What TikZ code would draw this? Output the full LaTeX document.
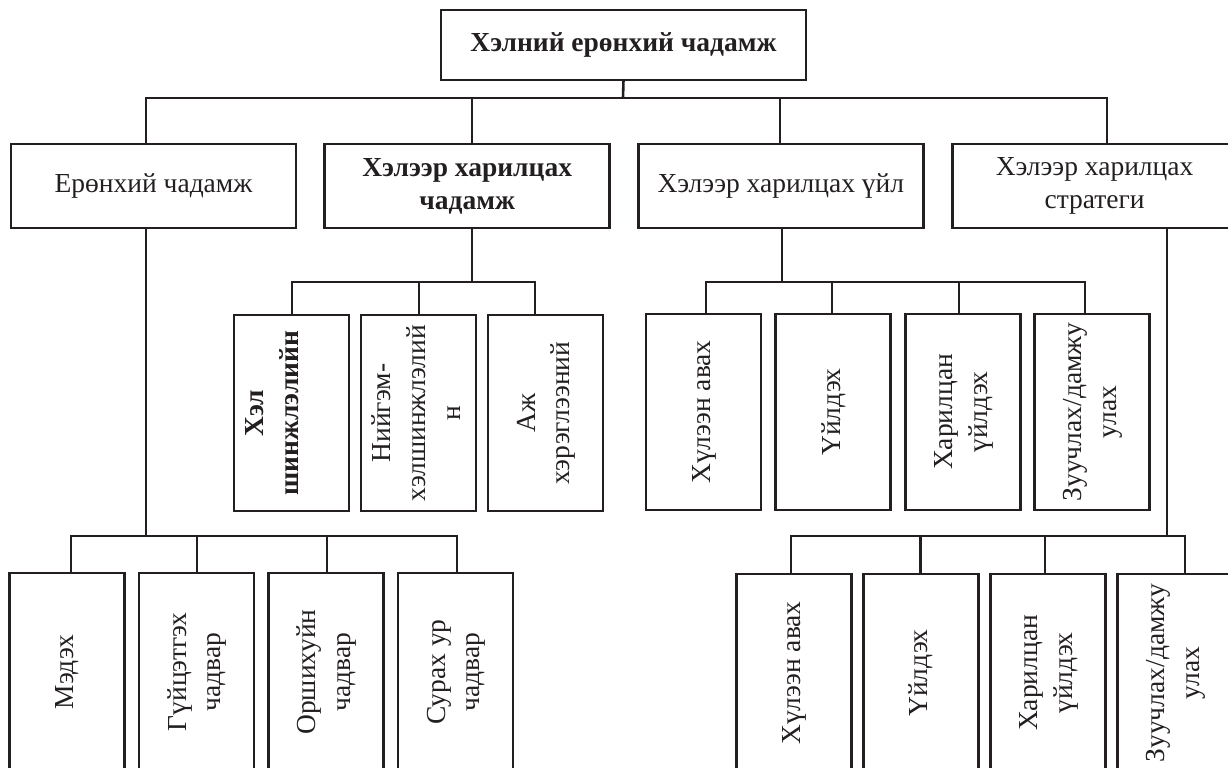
\documentclass[tikz,border=0pt]{standalone}
\usepackage{fontspec}
\setmainfont{Liberation Serif}
\usepackage{graphicx}
\usetikzlibrary{positioning,calc}
\definecolor{ink}{RGB}{35,31,32}
\newcommand{\vlabel}[1]{\rotatebox{90}{\def\arraystretch{1.05}\begin{tabular}{@{}c@{}}#1\end{tabular}}}

\begin{document}
\begin{tikzpicture}[x=0.5pt,y=-0.5pt,
        txt/.style={font=\fontsize{13.75pt}{16.6pt}\selectfont,text=ink},
        strong/.style={font=\fontsize{13.75pt}{16.6pt}\selectfont\bfseries},
        box/.style={txt,draw=ink,line width=1.45pt,outer sep=0pt,inner sep=2pt},
        wide/.style={box,align=center,minimum width=142.5pt,minimum height=42pt},
        tall/.style={box,minimum width=57.5pt,minimum height=98pt},
        low/.style={tall,minimum height=99pt},
        link/.style={draw=ink,line width=1.3pt}]
        \useasboundingbox (0,0) rectangle (1228,767);
        \clip (0,0) rectangle (1228,767);

        \node[box,strong,minimum width=182.5pt,minimum height=35pt] (root) at (623.5,45) {Хэлний ерөнхий чадамж};

        \node[wide] (general) at (153.5,186) {Ерөнхий чадамж};
        \node[wide,strong,right=14.35pt of general] (comm) {Хэлээр харилцах\\чадамж};
        \node[wide,right=14.35pt of comm] (activity) {Хэлээр харилцах үйл};
        \node[wide,right=14.35pt of activity] (strategy) {Хэлээр харилцах\\стратеги};

        \node[tall,strong] (linguistic) at (291.5,413) {\vlabel{Хэл\\шинжлэлийн\\ \mbox{}}};
        \node[tall,right=6pt of linguistic] (socioling) {\vlabel{Нийгэм-\\хэлшинжлэлий\\н}};
        \node[tall,right=6pt of socioling] (pragmatic) {\vlabel{Аж\\хэрэглээний}};

        \node[tall] (receive) at (703.5,412) {\vlabel{Хүлээн авах}};
        \node[tall,right=7.3pt of receive] (produce) {\vlabel{Үйлдэх}};
        \node[tall,right=7.3pt of produce] (interact) {\vlabel{Харилцан\\үйлдэх}};
        \node[tall,right=7.3pt of interact] (mediate) {\vlabel{Зуучлах/дамжу\\улах}};

        \node[low] (knowledge) at (67,672) {\vlabel{Мэдэх}};
        \node[low,right=7.25pt of knowledge] (skill) {\vlabel{Гүйцэтгэх\\чадвар}};
        \node[low,right=7.25pt of skill] (existential) {\vlabel{Оршихуйн\\чадвар}};
        \node[low,right=7.25pt of existential] (learning) {\vlabel{Сурах ур\\чадвар}};

        \node[low] (receive2) at (793.75,673) {\vlabel{Хүлээн авах}};
        \node[low,right=6pt of receive2] (produce2) {\vlabel{Үйлдэх}};
        \node[low,right=6pt of produce2] (interact2) {\vlabel{Харилцан\\үйлдэх}};
        \node[low,right=6pt of interact2] (mediate2) {\vlabel{Зуучлах/дамжу\\улах}};

        % buses
        \coordinate (bus0) at (623,98);
        \coordinate (bus1) at (472,282);
        \coordinate (bus2) at (782,282);
        \coordinate (bus3) at (146,536);
        \coordinate (bus4) at (1167,536);

        \draw[link] (root.south) -- (bus0);
        \foreach \n/\dx in {general/-7.5,comm/4.8,activity/-0.9,strategy/12.4}{
            \draw[link] ($(\n.north)+(\dx,0)$) |- (bus0);
        }
        \draw[link] (comm.south -| bus1) -- (bus1);
        \foreach \n/\dx in {linguistic/0.5,socioling/0.5,pragmatic/-10.5}{
            \draw[link] ($(\n.north)+(\dx,0)$) |- (bus1);
        }
        \draw[link] (activity.south -| bus2) -- (bus2);
        \foreach \n/\dx in {receive/2.5,produce/-1,interact/-3.7,mediate/-7.3}{
            \draw[link] ($(\n.north)+(\dx,0)$) |- (bus2);
        }
        \draw[link] (general.south -| bus3) -- (bus3);
        \foreach \n/\dx in {knowledge/4,skill/0.5,existential/1,learning/1.5}{
            \draw[link] ($(\n.north)+(\dx,0)$) |- (bus3);
        }
        \draw[link] (strategy.south -| bus4) -- (bus4);
        \foreach \n/\dx in {receive2/-2.75,produce2/0,interact2/-2.75,mediate2/10.25}{
            \draw[link] ($(\n.north)+(\dx,0)$) |- (bus4);
        }
    \end{tikzpicture}
\end{document}
